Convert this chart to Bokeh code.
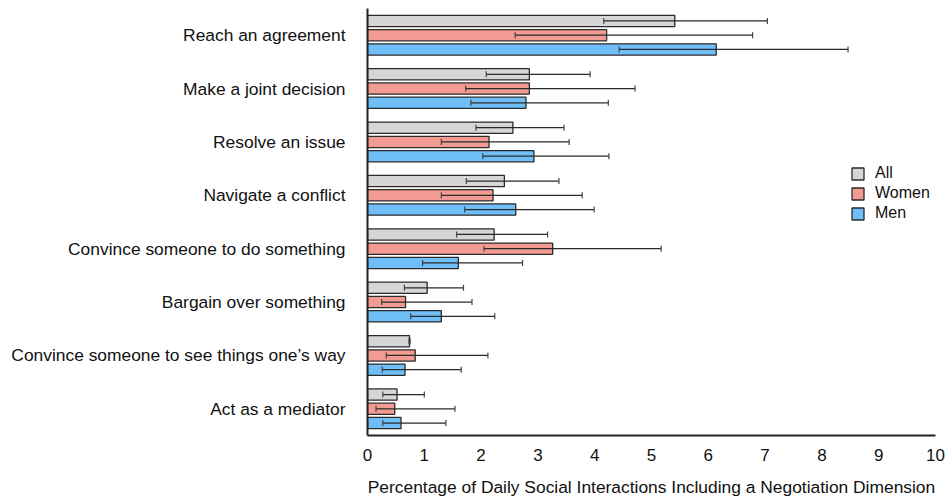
from bokeh.plotting import figure
from bokeh.models import (ColumnDataSource, Range1d, FixedTicker, Whisker,
                          TeeHead, Legend, LegendItem)
from bokeh.embed import file_html
from bokeh.resources import INLINE

# Negotiation dimensions, listed top to bottom
dimensions = [
    "Reach an agreement",
    "Make a joint decision",
    "Resolve an issue",
    "Navigate a conflict",
    "Convince someone to do something",
    "Bargain over something",
    "Convince someone to see things one\u2019s way",
    "Act as a mediator",
]

groups = ["All", "Women", "Men"]

# Mean percentage of daily social interactions per group
all_mean = [5.41, 2.85, 2.56, 2.41, 2.23, 1.05, 0.74, 0.52]
women_mean = [4.21, 2.85, 2.14, 2.21, 3.26, 0.67, 0.84, 0.48]
men_mean = [6.14, 2.79, 2.93, 2.61, 1.60, 1.30, 0.66, 0.59]

# Lower and upper interval bounds per group
all_lo = [4.16, 2.09, 1.91, 1.74, 1.57, 0.65, 0.73, 0.27]
all_hi = [7.04, 3.92, 3.46, 3.37, 3.17, 1.69, 0.75, 1.00]
women_lo = [2.60, 1.73, 1.30, 1.30, 2.05, 0.25, 0.33, 0.15]
women_hi = [6.78, 4.71, 3.55, 3.78, 5.17, 1.84, 2.12, 1.54]
men_lo = [4.43, 1.82, 2.03, 1.71, 0.97, 0.76, 0.26, 0.27]
men_hi = [8.46, 4.24, 4.25, 3.99, 2.73, 2.24, 1.65, 1.38]

x_ticks = list(range(0, 11))

colors = {"All": "#d6d6d6", "Women": "#f29b92", "Men": "#6fbef8"}
offsets = {"All": -0.267, "Women": 0.0, "Men": 0.267}
bar_h = 0.21

n = len(dimensions)
centers = [n - 1 - i for i in range(n)]

p = figure(width=945, height=499, output_backend="svg", toolbar_location=None,
           x_range=Range1d(0, 10), y_range=Range1d(-0.5, n - 0.5),
           min_border_left=367, min_border_right=10,
           min_border_top=8, min_border_bottom=63)

p.grid.grid_line_color = None
p.outline_line_color = None
p.background_fill_color = "white"
p.border_fill_color = "white"

series = {
    "All": (all_mean, all_lo, all_hi),
    "Women": (women_mean, women_lo, women_hi),
    "Men": (men_mean, men_lo, men_hi),
}

legend_items = []
for g in groups:
    mean, lo, hi = series[g]
    ys = [c - offsets[g] for c in centers]
    src = ColumnDataSource(dict(y=ys, mean=mean, lo=lo, hi=hi))
    r = p.hbar(y="y", left=0, right="mean", height=bar_h, source=src,
               fill_color=colors[g], line_color="#2a2a2a", line_width=1.3)
    legend_items.append(LegendItem(label=g, renderers=[r]))
    w = Whisker(source=src, base="y", lower="lo", upper="hi",
                dimension="width", line_color="#2a2a2a", line_width=1.2,
                level="overlay",
                lower_head=TeeHead(size=6, line_color="#444444", line_width=1.2),
                upper_head=TeeHead(size=6, line_color="#444444", line_width=1.2))
    p.add_layout(w)

# x axis
xa = p.xaxis[0]
xa.ticker = FixedTicker(ticks=x_ticks)
xa.axis_label = "Percentage of Daily Social Interactions Including a Negotiation Dimension"
xa.axis_label_text_font = "Liberation Sans"
xa.axis_label_text_font_style = "normal"
xa.axis_label_text_font_size = "17.4px"
xa.axis_label_text_color = "#111111"
xa.axis_label_standoff = 13
xa.major_label_text_font = "Liberation Sans"
xa.major_label_text_font_size = "17px"
xa.major_label_text_color = "#111111"
xa.major_label_standoff = 7
xa.major_tick_line_color = None
xa.minor_tick_line_color = None
xa.axis_line_color = "#222222"
xa.axis_line_width = 2

# y axis with the dimension names
ya = p.yaxis[0]
ya.ticker = FixedTicker(ticks=centers)
ya.major_label_overrides = {c: d for c, d in zip(centers, dimensions)}
ya.major_label_text_font = "Liberation Sans"
ya.major_label_text_font_size = "17.4px"
ya.major_label_text_color = "#111111"
ya.major_label_standoff = 16
ya.major_tick_line_color = None
ya.minor_tick_line_color = None
ya.axis_line_color = "#222222"
ya.axis_line_width = 2

legend = Legend(items=legend_items, location=(483, 213),
                glyph_width=15, glyph_height=15, spacing=2,
                label_text_font="Liberation Sans", label_text_font_size="16px",
                label_text_color="#111111", label_standoff=10,
                border_line_color=None, background_fill_alpha=0,
                padding=0, margin=0)
p.add_layout(legend)

open("out.html", "w").write(file_html(p, INLINE))
